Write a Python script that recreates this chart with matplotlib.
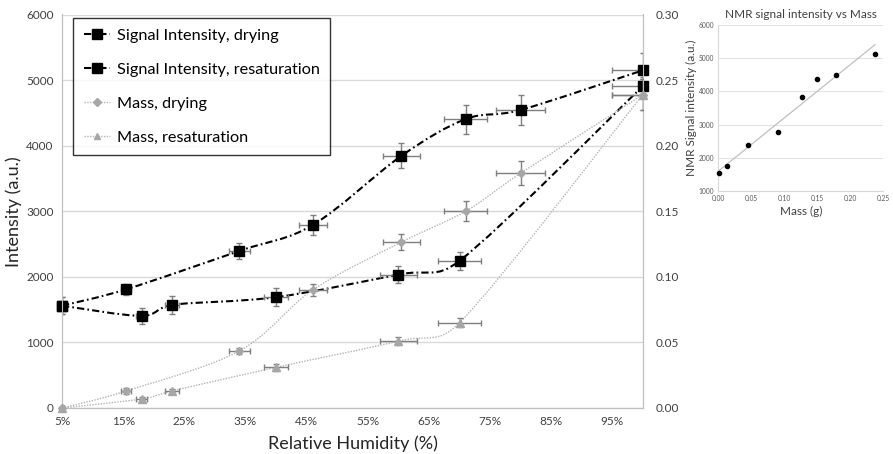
import numpy as np
import matplotlib
matplotlib.use("Agg")
import matplotlib.pyplot as plt
from matplotlib.path import Path
from matplotlib.patches import PathPatch
from matplotlib.lines import Line2D
from matplotlib.ticker import FuncFormatter

plt.rcParams["font.family"] = ["Lato", "DejaVu Sans"]

# ---------------------------------------------------------------------------
# DATA
# ---------------------------------------------------------------------------

# drying run: relative humidity (%) with NMR signal and sample mass
rh_drying = [5, 15.5, 34, 46, 60.5, 71, 80, 100]
rh_drying_err = [0.25, 0.8, 1.7, 2.3, 3.0, 3.55, 4.0, 5.0]
signal_drying = [1560, 1810, 2395, 2790, 3845, 4405, 4545, 5150]
signal_drying_err = [130, 85, 125, 150, 190, 220, 225, 265]
mass_drying = [0.0, 0.013, 0.0435, 0.090, 0.1265, 0.150, 0.179, 0.239]
mass_drying_err = [0.0, 0.002, 0.0025, 0.0045, 0.0063, 0.0076, 0.009, 0.012]

# resaturation run
rh_resat = [5, 18, 23, 40, 60, 70, 100]
rh_resat_err = [0.25, 0.9, 1.15, 2.0, 3.0, 3.5, 5.0]
signal_resat = [1560, 1405, 1573, 1690, 2035, 2244, 4910]
signal_resat_err = [130, 127, 133, 140, 133, 140, 140]
mass_resat = [0.0, 0.0069, 0.013, 0.031, 0.051, 0.065, 0.239]
mass_resat_err = [0.0, 0.0015, 0.0015, 0.0025, 0.0028, 0.0035, 0.012]

# inset: signal against mass
inset_mass = [0.001, 0.0136, 0.0445, 0.090, 0.1268, 0.150, 0.1788, 0.2375]
inset_signal = [1542, 1762, 2376, 2777, 3822, 4373, 4503, 5135]

RH_TICKS = [5, 15, 25, 35, 45, 55, 65, 75, 85, 95]

# ---------------------------------------------------------------------------
# STYLE
# ---------------------------------------------------------------------------

TEXT = "#404040"
SPINE = "#bfbfbf"
GRID = "#d9d9d9"
ERR = "#7f7f7f"
MASS_GREY = "#a6a6a6"
MASS_LINE = "#b4b4b4"
SIG_LS = (0, (3.5, 1.5, 0.8, 1.5))
MASS_LS = (0, (1, 1))


def smooth_path(ax, x, y, cap=0.5):
    """Catmull-Rom style Bezier through the points, worked out on screen.
    Each control arm is capped at a fraction of its own segment so short
    segments next to long ones do not overshoot."""
    to_disp = ax.transData
    pts = to_disp.transform(np.column_stack([x, y]).astype(float))
    n = len(pts)
    tang = [(pts[min(i + 1, n - 1)] - pts[max(i - 1, 0)]) / 6 for i in range(n)]

    def arm(t, seg):
        length = np.hypot(*t)
        limit = cap * seg
        return t * (limit / length) if length > limit else t

    verts = [pts[0]]
    codes = [Path.MOVETO]
    for i in range(n - 1):
        p1, p2 = pts[i], pts[i + 1]
        seg = np.hypot(*(p2 - p1))
        verts += [p1 + arm(tang[i], seg), p2 - arm(tang[i + 1], seg), p2]
        codes += [Path.CURVE4] * 3
    verts = to_disp.inverted().transform(np.array(verts))
    return Path(verts, codes)


def draw_series(ax, x, y, xerr, yerr, color, line_color, ls, lw, marker, ms, z):
    ax.add_patch(PathPatch(smooth_path(ax, x, y), fill=False,
                           edgecolor=line_color, linestyle=ls, linewidth=lw,
                           zorder=z))
    ax.errorbar(x, y, xerr=xerr, yerr=yerr, fmt="none", ecolor=ERR,
                elinewidth=1.0, capsize=2.5, capthick=1.0, zorder=z + 1)
    ax.plot(x, y, linestyle="none", marker=marker, ms=ms, color=color,
            markeredgecolor=color, clip_on=False, zorder=z + 2)


fig = plt.figure(figsize=(8.93, 4.54), dpi=100)
ax = fig.add_axes([62 / 893, 1 - 408 / 454, 581 / 893, 393.5 / 454])
ax2 = ax.twinx()

ax.set_xlim(5, 100)
ax.set_ylim(0, 6000)
ax2.set_ylim(0, 0.30)

draw_series(ax, rh_drying, signal_drying, rh_drying_err, signal_drying_err,
            "black", "black", SIG_LS, 1.5, "s", 7.5, 3)
draw_series(ax, rh_resat, signal_resat, rh_resat_err, signal_resat_err,
            "black", "black", SIG_LS, 1.5, "s", 7.5, 3)
draw_series(ax2, rh_drying, mass_drying, rh_drying_err, mass_drying_err,
            MASS_GREY, MASS_LINE, MASS_LS, 1.0, "D", 4.5, 3)
draw_series(ax2, rh_resat, mass_resat, rh_resat_err, mass_resat_err,
            MASS_GREY, MASS_LINE, MASS_LS, 1.0, "^", 6, 3)

ax.set_xticks(RH_TICKS)
ax.xaxis.set_major_formatter(FuncFormatter(lambda v, _: f"{v:.0f}%"))
ax.set_yticks(np.arange(0, 6001, 1000))
ax2.set_yticks(np.arange(0, 0.301, 0.05))
ax2.yaxis.set_major_formatter(FuncFormatter(lambda v, _: f"{v:.2f}"))

ax.yaxis.grid(True, color=GRID, linewidth=1.0)
ax.set_axisbelow(True)
for a in (ax, ax2):
    a.tick_params(length=0, labelsize=8.5, colors=TEXT, pad=6)
    a.spines["top"].set_visible(False)
    for s in ("left", "right", "bottom"):
        a.spines[s].set_color(SPINE)
ax2.tick_params(axis="y", pad=9)

ax.set_xlabel("Relative Humidity (%)", fontsize=13, color="#262626", labelpad=6)
ax.set_ylabel("Intensity (a.u.)", fontsize=13, color="#262626", labelpad=3)

handles = [
    Line2D([], [], color="black", linestyle=SIG_LS, lw=1.5, marker="s", ms=7),
    Line2D([], [], color="black", linestyle=SIG_LS, lw=1.5, marker="s", ms=7),
    Line2D([], [], color=MASS_LINE, linestyle=MASS_LS, lw=1.0, marker="D",
           ms=4, markerfacecolor=MASS_GREY, markeredgecolor=MASS_GREY),
    Line2D([], [], color=MASS_LINE, linestyle=MASS_LS, lw=1.0, marker="^",
           ms=5, markerfacecolor=MASS_GREY, markeredgecolor=MASS_GREY),
]
labels = ["Signal Intensity, drying", "Signal Intensity, resaturation",
          "Mass, drying", "Mass, resaturation"]
leg = ax2.legend(handles, labels, loc="upper left",
                 bbox_to_anchor=(73 / 893, 1 - 18 / 454),
                 bbox_transform=fig.transFigure, fontsize=11.7,
                 frameon=True, fancybox=False, edgecolor="black",
                 handlelength=1.6, handletextpad=0.45, labelspacing=1.2,
                 borderpad=0.65, borderaxespad=0)
leg.get_frame().set_linewidth(1.0)
leg.set_zorder(10)
for t in leg.get_texts():
    t.set_color("black")

# inset: NMR signal against sample mass with a linear trendline
ins = fig.add_axes([718.3 / 893, 1 - 191 / 454, 165 / 893, 166 / 454])
ins.set_xlim(0, 0.25)
ins.set_ylim(1000, 6000)
slope, intercept = np.polyfit(inset_mass, inset_signal, 1)
fit_x = np.array([0.0, max(inset_mass)])
ins.plot(fit_x, slope * fit_x + intercept, color="#c0c0c0", lw=0.9, zorder=2)
ins.plot(inset_mass, inset_signal, linestyle="none", marker="o", ms=3,
         color="black", clip_on=False, zorder=3)
ins.set_xticks(np.arange(0, 0.251, 0.05))
ins.xaxis.set_major_formatter(FuncFormatter(lambda v, _: f"{v:.2f}"))
ins.set_yticks(np.arange(1000, 6001, 1000))
ins.yaxis.grid(True, color="#e3e3e3", linewidth=0.8)
ins.set_axisbelow(True)
ins.tick_params(length=0, labelsize=4.8, colors="#595959", pad=3)
for s in ("top", "right"):
    ins.spines[s].set_visible(False)
for s in ("left", "bottom"):
    ins.spines[s].set_color("#d9d9d9")
ins.set_title("NMR signal intensity vs Mass", fontsize=8.5, color="#404040", pad=5)
ins.set_xlabel("Mass (g)", fontsize=8.5, color="#404040", labelpad=3)
ins.set_ylabel("NMR Signal intensity (a.u.)", fontsize=8.5, color="#404040",
               labelpad=1)

fig.savefig("out.png", dpi=100)
